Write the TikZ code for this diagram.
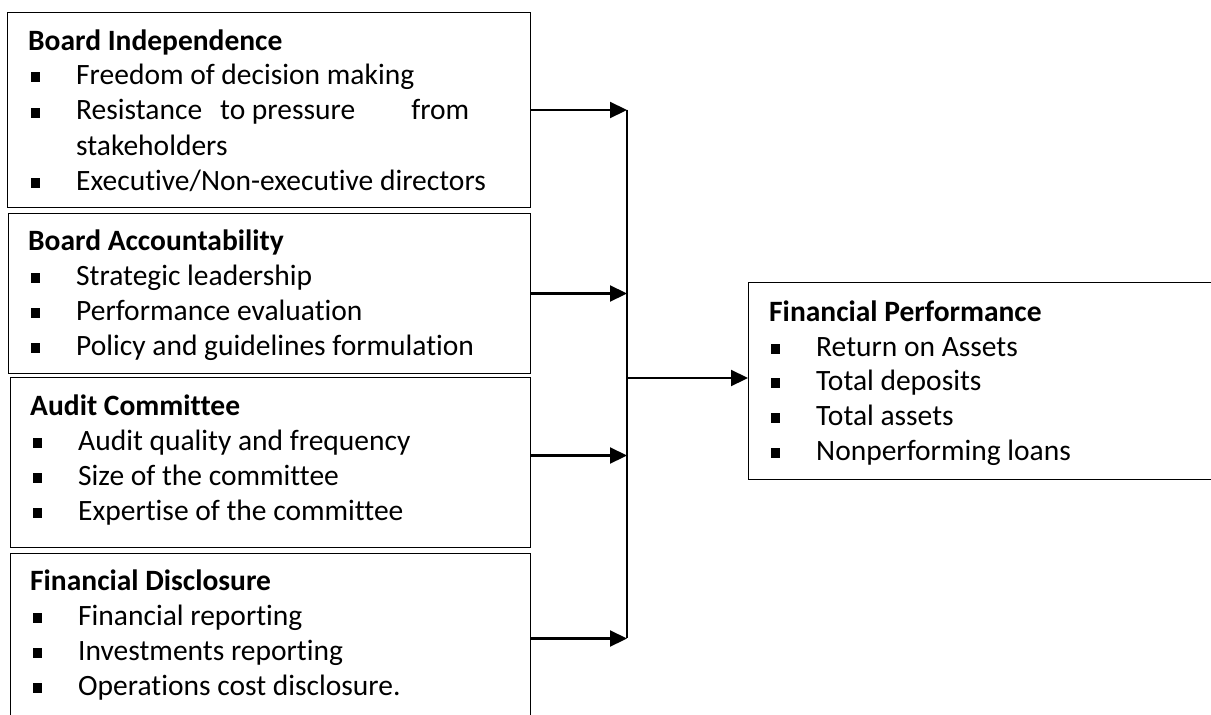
\documentclass[tikz,border=0pt]{standalone}
\usepackage{fontspec}
\setmainfont{Carlito}[Ligatures={NoCommon}]
\usetikzlibrary{arrows.meta}
\tikzset{
  box/.style={draw=black, line width=1pt, inner sep=0pt, anchor=north west},
  txt/.style={inner sep=0pt, anchor=base west, font=\fontsize{29.5}{35.3}\selectfont},
  ttl/.style={txt, font=\fontsize{29.5}{35.3}\selectfont\bfseries},
  bul/.style={fill=black, inner sep=0pt, minimum width=9pt, minimum height=10pt},
  conn/.style={line width=2.2pt},
  arr/.style={line width=2.2pt, -{Triangle[length=17pt,width=16pt]}}
}
\newcommand\bitem[5]{%
  \node[bul] (#1b) at (#2,#4-7) {};
  \node[txt] (#1) at (#3,#4) {#5};}
\begin{document}
\begin{tikzpicture}[x=1pt,y=-1pt]
\useasboundingbox (0,0) rectangle (1211,715);
\clip (0,0) rectangle (1211,715);
% boxes
\node[box, minimum width=523pt, minimum height=195pt] (b1) at (7,12) {};
\node[box, minimum width=522pt, minimum height=160pt] (b2) at (8,213) {};
\node[box, minimum width=520pt, minimum height=170pt] (b3) at (10,377) {};
\node[box, minimum width=520pt, minimum height=170pt] (b4) at (10,553) {};
\node[box, minimum width=470pt, minimum height=197pt] (fp) at (748,282) {};
% box 1
\node[ttl] (b1t) at (28,50) {Board Independence};
\bitem{b1i1}{35}{76}{84}{Freedom of decision making}
\bitem{b1i2}{35}{76}{119.5}{\makebox[393pt][l]{Resistance\hspace{18pt}to pressure\hfill from}}
\node[txt] (b1i2b) at (76,155) {stakeholders};
\bitem{b1i3}{35}{76}{190}{Executive/Non-executive directors}
% box 2
\node[ttl] (b2t) at (28,250) {Board Accountability};
\bitem{b2i1}{35}{76}{285}{Strategic leadership}
\bitem{b2i2}{35}{76}{320}{Performance evaluation}
\bitem{b2i3}{35}{76}{355}{Policy and guidelines formulation}
% box 3
\node[ttl] (b3t) at (30,415) {Audit Committee};
\bitem{b3i1}{37}{78}{450}{Audit quality and frequency}
\bitem{b3i2}{37}{78}{485}{Size of the committee}
\bitem{b3i3}{37}{78}{520}{Expertise of the committee}
% box 4
\node[ttl] (b4t) at (30,590) {Financial Disclosure};
\bitem{b4i1}{37}{78}{625}{Financial reporting}
\bitem{b4i2}{37}{78}{660}{Investments reporting}
\bitem{b4i3}{37}{78}{695}{Operations cost disclosure.}
% right box
\node[ttl] (fpt) at (769,321) {Financial Performance};
\bitem{fpi1}{775}{816}{356}{Return on Assets}
\bitem{fpi2}{775}{816}{390}{Total deposits}
\bitem{fpi3}{775}{816}{425}{Total assets}
\bitem{fpi4}{775}{816}{460}{Nonperforming loans}
% connectors
\coordinate (vt) at (627,109.5);
\coordinate (vb) at (627,638);
\coordinate (vm) at (627,378);
\draw[conn] (vt) -- (vb);
\draw[arr] (b1.east) -- (b1.east -| vt);
\draw[arr] (b2.east) -- (b2.east -| vt);
\draw[arr] ([yshift=7pt]b3.east) -- ([yshift=7pt]b3.east -| vt);
\draw[arr] (b4.east) -- (b4.east -| vt);
\draw[arr] (vm) -- (vm -| fp.west);
\end{tikzpicture}
\end{document}
